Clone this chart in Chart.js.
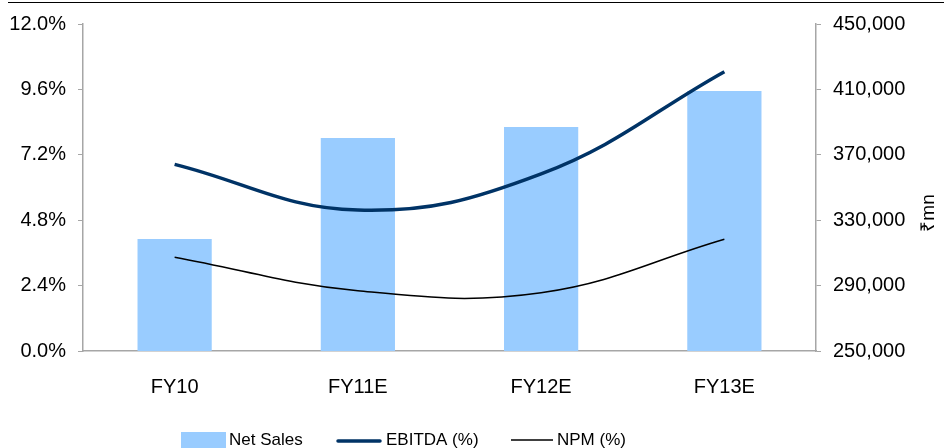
<!DOCTYPE html>
<html>
<head>
<meta charset="utf-8">
<script src="https://cdn.jsdelivr.net/npm/chart.js@4.4.1/dist/chart.umd.min.js"></script>
<style>
    html, body { margin: 0; padding: 0; background: #fff; }
    #wrap { position: relative; width: 944px; height: 448px; overflow: hidden; }
    #topRule { position: absolute; left: 8px; right: 0; top: 2px; height: 0; border-top: 1.5px solid #000; }
    canvas { display: block; }
</style>
</head>
<body>
<div id="wrap">
    <div id="topRule"></div>
    <canvas id="salesChart" width="944" height="448"></canvas>
</div>
<script>
// Net sales (₹mn) against EBITDA and net profit margins

const years = ['FY10', 'FY11E', 'FY12E', 'FY13E'];
const netSales = [318500, 380300, 387000, 409000];
const ebitdaPct = [6.85, 5.17, 6.5, 10.25];
const npmPct = [3.44, 2.21, 2.14, 4.1];

const marginTicks = [0, 2.4, 4.8, 7.2, 9.6, 12.0];
const salesTicks = [250000, 290000, 330000, 370000, 410000, 450000];

const FONT = '"Liberation Sans", Arial, sans-serif';
const AXIS_GREY = '#a6a6a6';
const TICK_FONT = { family: FONT, size: 20 };

// Legend and right-hand unit label, drawn after the chart
const chartExtras = {
    id: 'chartExtras',
    afterDraw(chart) {
        const ctx = chart.ctx;
        ctx.save();
        ctx.font = '17px ' + FONT;
        ctx.fillStyle = '#000';
        ctx.textBaseline = 'middle';
        ctx.textAlign = 'left';

        const y = 440;
        // Net Sales swatch
        ctx.fillStyle = '#99ccff';
        ctx.fillRect(181, 432, 45, 18);
        ctx.fillStyle = '#000';
        ctx.fillText('Net Sales', 229, y);

        // EBITDA line
        ctx.strokeStyle = '#003366';
        ctx.lineWidth = 3.5;
        ctx.lineCap = 'round';
        ctx.beginPath();
        ctx.moveTo(338, y + 1);
        ctx.lineTo(380, y + 1);
        ctx.stroke();
        ctx.fillText('EBITDA (%)', 386, y);

        // NPM line
        ctx.strokeStyle = '#000';
        ctx.lineWidth = 1.5;
        ctx.lineCap = 'butt';
        ctx.beginPath();
        ctx.moveTo(511, y);
        ctx.lineTo(553, y);
        ctx.stroke();
        ctx.fillText('NPM (%)', 557, y);

        // unit label beside the right axis
        ctx.font = '19px ' + FONT;
        ctx.translate(929, 213);
        ctx.rotate(-Math.PI / 2);
        ctx.textAlign = 'center';
        ctx.fillText('₹mn', 0, 0);
        ctx.restore();
    }
};

const ctx = document.getElementById('salesChart').getContext('2d');
const chart = new Chart(ctx, {
    type: 'bar',
    data: {
        labels: years,
        datasets: [{
            type: 'line',
            label: 'EBITDA (%)',
            data: ebitdaPct,
            yAxisID: 'yMargin',
            borderColor: '#003366',
            borderWidth: 3.5,
            pointRadius: 0,
            tension: 0.4,
            fill: false,
            order: 1
        }, {
            type: 'line',
            label: 'NPM (%)',
            data: npmPct,
            yAxisID: 'yMargin',
            borderColor: '#000000',
            borderWidth: 1.5,
            pointRadius: 0,
            tension: 0.4,
            fill: false,
            order: 2
        }, {
            type: 'bar',
            label: 'Net Sales',
            data: netSales,
            yAxisID: 'ySales',
            backgroundColor: '#99ccff',
            borderWidth: 0,
            categoryPercentage: 1,
            barPercentage: 0.405,
            order: 3
        }]
    },
    options: {
        responsive: false,
        animation: false,
        layout: { padding: { top: 24, left: 0, right: 0, bottom: 0 } },
        plugins: {
            legend: { display: false },
            tooltip: { enabled: false }
        },
        scales: {
            x: {
                grid: { display: false },
                border: { display: true, color: AXIS_GREY, width: 1.5 },
                ticks: { color: '#000', font: TICK_FONT, padding: 16 },
                afterFit(scale) { scale.height = 97; }
            },
            yMargin: {
                position: 'left',
                min: 0,
                max: 12,
                afterBuildTicks(scale) { scale.ticks = marginTicks.map(v => ({ value: v })); },
                grid: { drawOnChartArea: false, drawTicks: true, tickLength: 5, color: AXIS_GREY },
                border: { display: true, color: AXIS_GREY, width: 1.5 },
                ticks: {
                    color: '#000',
                    font: TICK_FONT,
                    padding: 12,
                    callback: v => v.toFixed(1) + '%'
                },
                afterFit(scale) { scale.width = 83; }
            },
            ySales: {
                position: 'right',
                min: 250000,
                max: 450000,
                afterBuildTicks(scale) { scale.ticks = salesTicks.map(v => ({ value: v })); },
                grid: { drawOnChartArea: false, drawTicks: true, tickLength: 5, color: AXIS_GREY },
                border: { display: true, color: AXIS_GREY, width: 1.5 },
                ticks: {
                    color: '#000',
                    font: TICK_FONT,
                    padding: 12,
                    callback: v => v.toLocaleString('en-US')
                },
                afterFit(scale) { scale.width = 128; }
            }
        }
    },
    plugins: [chartExtras]
});
</script>
</body>
</html>
